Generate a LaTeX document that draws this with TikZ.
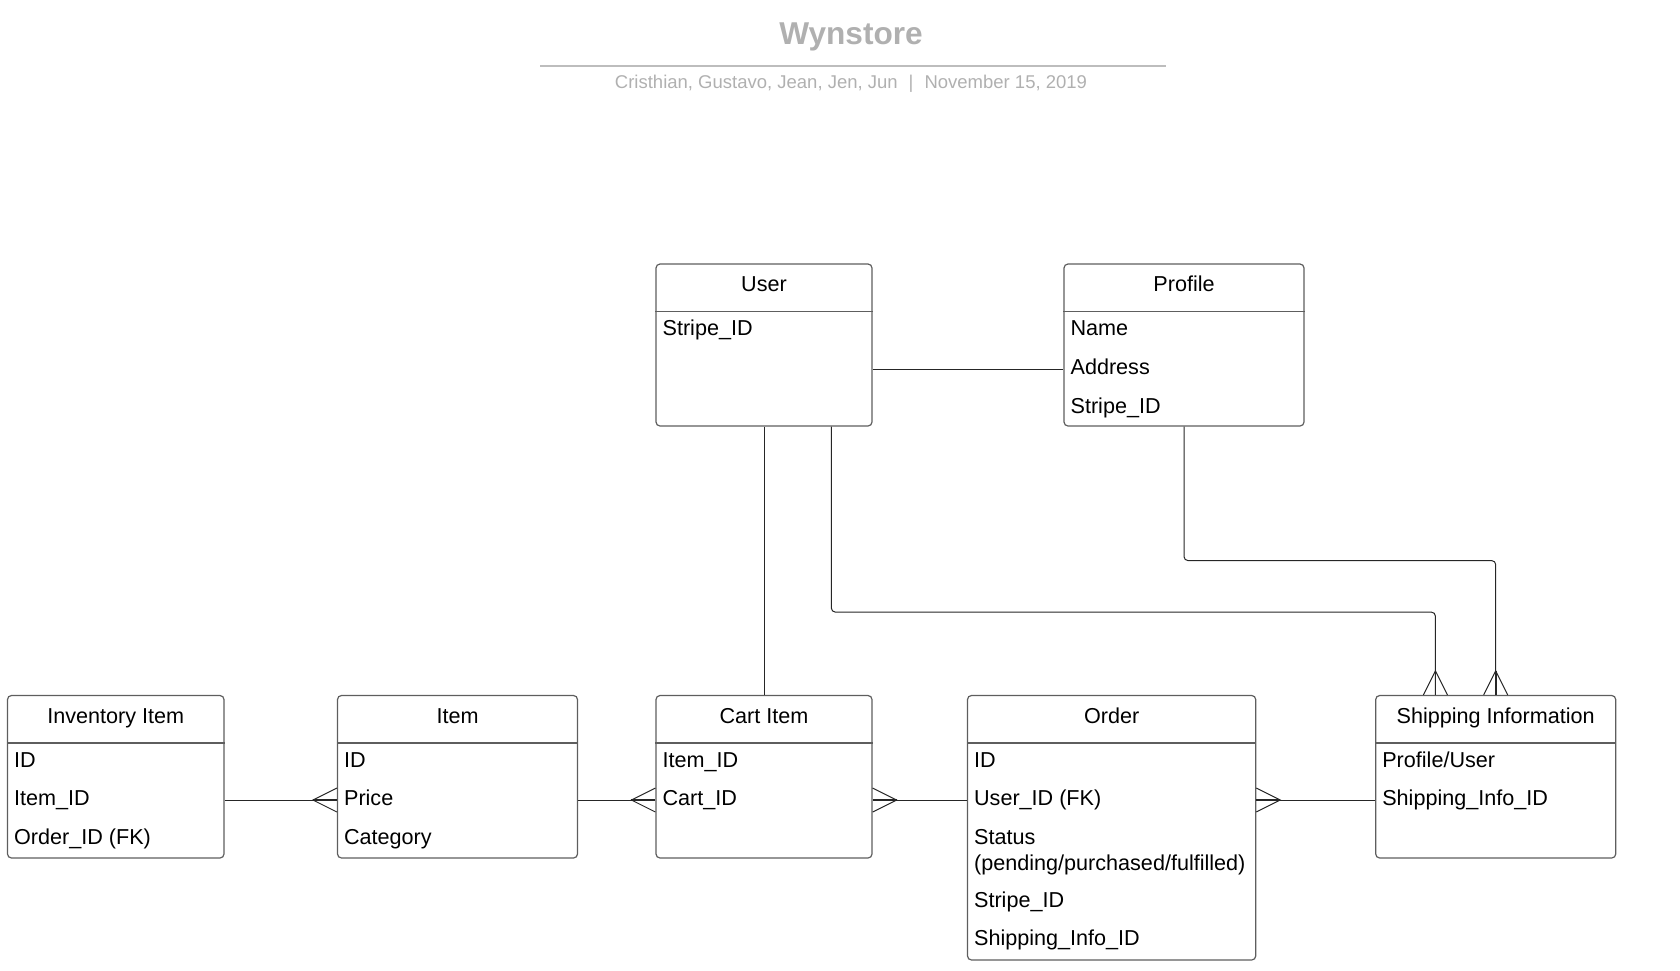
\documentclass[tikz,border=0pt]{standalone}
\usepackage{fontspec}
\setmainfont{Liberation Sans}
\usetikzlibrary{fit,calc}

\definecolor{boxgray}{HTML}{5E5E5E}
\definecolor{titlegray}{HTML}{B0B0B0}
\definecolor{rulegray}{HTML}{BDBDBD}

\tikzset{
  entity/.style={draw=boxgray, line width=0.6pt, rounded corners=2pt, inner sep=0pt},
  headline/.style={draw=boxgray, line width=0.6pt},
  heading/.style={anchor=base, inner sep=0pt, font=\fontsize{10.8}{12.9}\selectfont},
  field/.style={anchor=base west, inner sep=0pt, font=\fontsize{10.8}{12.9}\selectfont},
  link/.style={draw=black!85, line width=0.5pt},
  prong/.style={draw=black!85, line width=0.9pt},
}

\begin{document}
\begin{tikzpicture}[x=0.5pt,y=-0.5pt]
  \useasboundingbox (0,0) rectangle (1680,970);

  % title block
  \node[anchor=base, inner sep=0pt, text=titlegray,
        font=\bfseries\fontsize{15.8}{19}\selectfont] (title) at (851,44.5) {Wynstore};
  \draw[rulegray, line width=1pt] (540,66.4) -- (1166,66.4);
  \node[anchor=base, inner sep=0pt, text=titlegray,
        font=\fontsize{9.25}{11}\selectfont] (authors) at (851,88)
        {Cristhian, Gustavo, Jean, Jen, Jun\hspace{5.5pt}|\hspace{5.5pt}November 15, 2019};

  % entities
  \node[entity, fit={(656,264) (872,426)}] (user) {};
  \node[entity, fit={(1064,264) (1304,426)}] (profile) {};
  \node[entity, fit={(7.5,695.5) (224,858)}] (inventory) {};
  \node[entity, fit={(337.5,695.5) (577.5,858)}] (item) {};
  \node[entity, fit={(656,695.5) (872,858)}] (cart) {};
  \node[entity, fit={(967.5,695.5) (1255.7,960)}] (order) {};
  \node[entity, fit={(1375.7,695.5) (1615.7,858)}] (shipping) {};

  \foreach \e/\t in {user/User, profile/Profile, inventory/Inventory Item,
                     item/Item, cart/Cart Item, order/Order, shipping/Shipping Information} {
    \draw[headline] ([yshift=-24pt]\e.north west) -- ([yshift=-24pt]\e.north east);
    \node[heading] at ([yshift=-14.25pt]\e.north) {\t};
  }

  % fields
  \node[field] at ([xshift=3.4pt,yshift=-36.2pt]user.north west) {Stripe\_ID};
  \foreach \f [count=\i from 0] in {Name, Address, Stripe\_ID}
    \node[field] at ([xshift=3.4pt,yshift=-36.2pt-\i*19.3pt]profile.north west) {\f};
  \foreach \f [count=\i from 0] in {ID, Item\_ID, Order\_ID (FK)}
    \node[field] at ([xshift=3.4pt,yshift=-36.2pt-\i*19.3pt]inventory.north west) {\f};
  \foreach \f [count=\i from 0] in {ID, Price, Category}
    \node[field] at ([xshift=3.4pt,yshift=-36.2pt-\i*19.3pt]item.north west) {\f};
  \foreach \f [count=\i from 0] in {Item\_ID, Cart\_ID}
    \node[field] at ([xshift=3.4pt,yshift=-36.2pt-\i*19.3pt]cart.north west) {\f};
  \foreach \f [count=\i from 0] in {Profile/User, Shipping\_Info\_ID}
    \node[field] at ([xshift=3.4pt,yshift=-36.2pt-\i*19.3pt]shipping.north west) {\f};
  \node[field] at ([xshift=3.4pt,yshift=-36.2pt]order.north west) {ID};
  \node[field] at ([xshift=3.4pt,yshift=-55.5pt]order.north west) {User\_ID (FK)};
  \node[field] at ([xshift=3.4pt,yshift=-74.8pt]order.north west) {Status};
  \node[field] at ([xshift=3.4pt,yshift=-87.7pt]order.north west) {(pending/purchased/fulfilled)};
  \node[field] at ([xshift=3.4pt,yshift=-106.2pt]order.north west) {Stripe\_ID};
  \node[field] at ([xshift=3.4pt,yshift=-125.5pt]order.north west) {Shipping\_Info\_ID};

  % connectors
  \coordinate (addr) at (0,369);
  \coordinate (row) at (0,800);
  \coordinate (uout) at ($(user.south west)!0.81!(user.south east)$);
  \coordinate (shipin) at ($(shipping.north west)!0.25!(shipping.north east)$);

  \draw[link] (user.east |- addr) -- (profile.west |- addr);
  \draw[link] (user.south) -- (cart.north);
  \draw[link, rounded corners=2pt] (uout) -- ++(0,185.5) -| (shipin);
  \draw[link, rounded corners=2pt] (profile.south) -- ++(0,134) -| (shipping.north);
  \draw[link] (inventory.east |- row) -- (item.west |- row);
  \draw[link] (item.east |- row) -- (cart.west |- row);
  \draw[link] (cart.east |- row) -- (order.west |- row);
  \draw[link] (order.east |- row) -- (shipping.west |- row);

  % crow's feet
  \draw[link] ($(item.west |- row)+(0,-12)$) -- ++(-24,12) -- ++(24,12);
  \draw[prong] (item.west |- row) -- ++(-24,0);
  \draw[link] ($(cart.west |- row)+(0,-12)$) -- ++(-24,12) -- ++(24,12);
  \draw[prong] (cart.west |- row) -- ++(-24,0);
  \draw[link] ($(cart.east |- row)+(0,-12)$) -- ++(24,12) -- ++(-24,12);
  \draw[prong] (cart.east |- row) -- ++(24,0);
  \draw[link] ($(order.east |- row)+(0,-12)$) -- ++(24,12) -- ++(-24,12);
  \draw[prong] (order.east |- row) -- ++(24,0);
  \draw[link] ($(shipin)+(-12,0)$) -- ++(12,-24) -- ++(12,24);
  \draw[prong] (shipin) -- ++(0,-24);
  \draw[link] ($(shipping.north)+(-12,0)$) -- ++(12,-24) -- ++(12,24);
  \draw[prong] (shipping.north) -- ++(0,-24);
\end{tikzpicture}
\end{document}
